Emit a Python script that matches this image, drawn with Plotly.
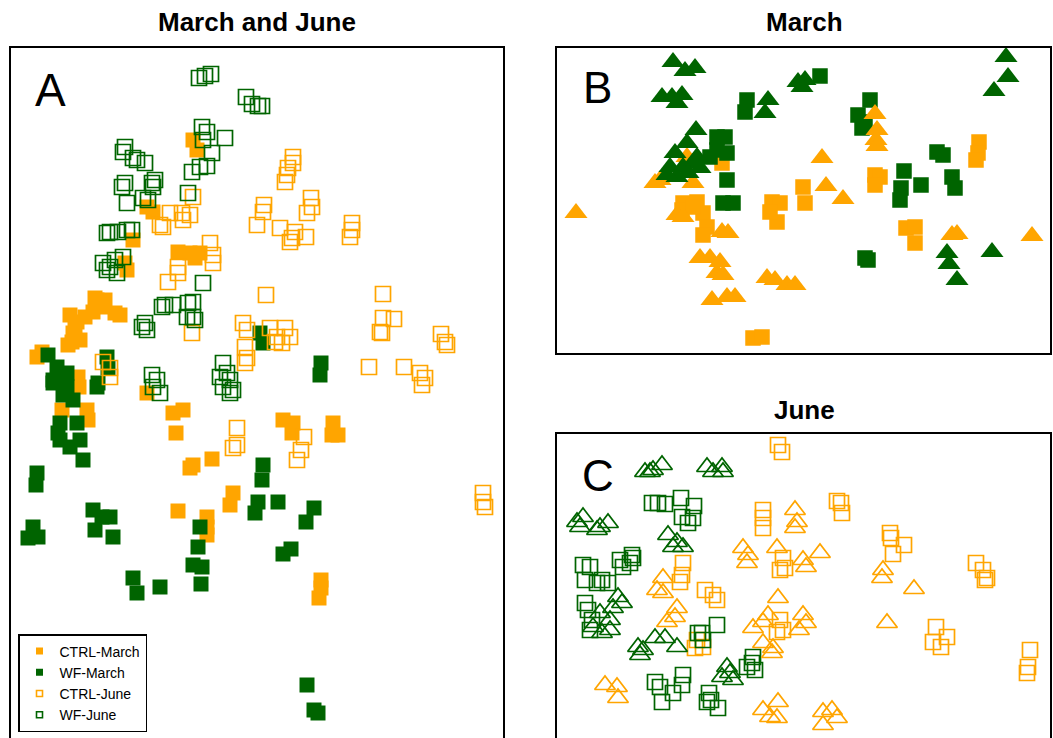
import plotly.graph_objects as go

ORANGE = "#FFA500"
GREEN = "#006400"
FONT = "Liberation Sans, Arial, sans-serif"

# ---------------- Panel A: March and June (NMDS scores) ----------------
a_ctrl_march_x = [-72, -60, -50, -55, -117, -125, -123, -103, -97, -153, -157, -135, -173, -177, -178, -165,
                  -148, -208, -213, -172, -57, -53, -188, -163, -162, -77, -67, -74, -60, -57, -38, -17,
                  -20, -72, -43, -43, -43, -103, -171, 33, 43, 42, 83, 82, 88, 71, 71, 69,
                  -155, -145, -180, -130, -175, -182, -170]
a_ctrl_march_y = [148, 147, 147, 142, 160, 137, 130, 193, 188, 100, 88, 87, 78, 67, 58, 83,
                  93, 48, 43, 23, 260, 250, -10, -10, -20, -13, -10, -33, -68, -65, -59, -93,
                  -105, -111, -117, -127, -135, 7, 13, -20, -23, -33, -23, -35, -35, -180, -188, -198,
                  102, 100, 85, 85, 72, 55, 60]

a_wf_march_x = [-202, -193, -183, -197, -143, -142, -152, 10, 13, 71, 70, -197, -183, -177, -187, -153,
                -190, -190, -173, -170, -167, -180, -192, -213, -214, -217, -222, -212, -157, -155, -140,
                -137, -148, -117, -113, -90, -52, -57, -48, -49, -50, 13, 12, 8, 5, 28, 64, 56, 41, 33,
                57, 64, 68]
a_wf_march_y = [45, 33, 27, 20, 43, 32, 17, 67, 57, 37, 25, 17, 13, 0, 5, 13,
                -23, -40, -23, -40, -60, -47, -33, -73, -85, -127, -138, -137, -110, -130, -117,
                -137, -117, -178, -193, -187, -147, -165, -167, -184, -127, -65, -80, -102, -113, -102,
                -108, -122, -149, -154, -285, -310, -313]

a_ctrl_june_x = [-80, -90, -87, -68, -60, -67, -57, -40, -37, -37, -72, -72, -82, -58, -7, -3, -5, -3, -5,
                 -147, -140, -140, 43, 43, 38, 37, 35, 14, 13, 7, 30, 45, 40, 42, 56, 61, 62, 57, 102,
                 102, 100, 16, 133, 133, 144, 130, 132, 191, 195, 197, 119, 154, 170, 175, 172, 20, 35,
                 40, 25, 32, 27, -13, -17, -13, 54, 51, 47, 233, 233, 235]
a_ctrl_june_y = [187, 175, 173, 187, 185, 180, 203, 157, 145, 137, 133, 127, 118, 67, 77, 70, 53, 42, 37,
                 38, 32, 23, 243, 237, 232, 225, 218, 195, 188, 175, 172, 168, 158, 162, 163, 202, 193,
                 187, 177, 170, 163, 105, 106, 82, 81, 68, 67, 66, 58, 55, 33, 33, 27, 22, 15, 72, 72,
                 63, 58, 57, 63, -28, -48, -45, -37, -50, -60, -93, -102, -107]

a_wf_june_x = [-51, -45, -39, -4, 2, 8, 12, -48, -43, -25, -38, -47, -58, -50, -43, -125, -127, -113, -105,
               -117, -125, -128, -123, -95, -98, -97, -107, -102, -62, -140, -132, -123, -118, -143,
               -143, -135, -127, -147, -133, -140, -85, -77, -88, -105, -103, -108, -62, -57, -57, -63,
               -55, -47, -27, -23, -20, -30, -98, -93, -97, -90, -27, -20, -17]
a_wf_june_y = [322, 324, 326, 303, 296, 294, 294, 273, 268, 262, 247, 260, 228, 233, 234, 253, 248, 240,
               237, 242, 217, 213, 197, 220, 217, 213, 202, 200, 207, 168, 168, 170, 170, 167, 130, 140,
               143, 137, 127, 133, 95, 95, 93, 77, 70, 73, 97, 98, 83, 83, 80, 117, 37, 27, 20, 23, 25,
               20, 13, 7, 13, 7, 10]

# ---------------- Panel B: March ----------------
b_ctrl_sq_x = [-117, -103, -97, -93, -97, -118, -107, -78, -28, -20, -23, -30, 3, 5, -47, -38, 75, 80, 75,
               106, 115, 115, 179, 178, 176]
b_ctrl_sq_y = [-3, -2, -13, -27, -35, -10, -7, 37, -2, -3, -22, -12, 13, -3, -138, -137, 25, 23, 15,
               -28, -27, -43, 58, 47, 40]

b_wf_sq_x = [-53, -55, -83, -75, -83, -73, -90, -73, -77, -67, 20, 70, 58, 62, 65, 137, 143, 104, 121,
             101, 100, 152, 155, 65, 68]
b_wf_sq_y = [100, 88, 63, 63, 50, 47, 43, 20, -3, -3, 124, 100, 85, 72, 78, 48, 45, 29, 15, 12, 0, 23,
             12, -58, -60]

b_ctrl_tri_x = [-140, -145, -224, -123, -117, -78, -72, -100, -90, -80, -83, -77, -88, -73, -65, -33, -25,
                -13, -5, -113, -107, 75, 77, 76, 77, 22, 26, 43, 152, 157, 232]
b_ctrl_tri_y = [20, 17, -13, -15, -17, -32, -33, -58, -58, -62, -73, -75, -100, -97, -97, -78, -80,
                -85, -85, 43, 17, 86, 70, 60, 54, 42, 14, 1, -35, -34, -36]

b_wf_tri_x = [-127, -115, -105, -138, -128, -118, -123, -32, -35, -2, -104, -113, -125, -130, -117, -107,
              -100, -112, -123, -133, -103, 5, 2, 206, 208, 194, 147, 149, 157, 192]
b_wf_tri_y = [138, 129, 132, 103, 103, 105, 97, 100, 87, 118, 70, 57, 47, 33, 33, 37, 32, 27, 23, 25, 43,
              120, 113, 143, 123, 109, -53, -64, -80, -52]

# ---------------- Panel C: June ----------------
c_ctrl_sq_x = [-22, -18, -37, -37, -37, -117, -118, -120, -95, -87, -83, -17, -20, -15, -103, -97, -105,
               -20, -17, -23, 37, 41, 42, 90, 91, 104, 93, 176, 183, 187, 185, 136, 147, 133, 141, 230,
               228, 227]
c_ctrl_sq_y = [145, 138, 80, 72, 62, 27, 15, 8, 0, -5, -10, 32, 20, 22, -50, -57, -58, -30, -40, -42,
               89, 87, 77, 57, 52, 45, 36, 27, 20, 12, 10, -37, -47, -52, -57, -60, -77, -83]

c_wf_sq_x = [-148, -142, -135, -119, -106, -107, -118, -112, -217, -210, -215, -203, -180, -168, -170, -177,
             -167, -198, -192, -215, -212, -208, -210, -83, -98, -102, -97, -47, -53, -45, -48, -145,
             -140, -127, -117, -118, -138, -91, -89, -82, -93]
c_wf_sq_y = [87, 87, 86, 92, 84, 72, 73, 67, 25, 23, 10, 7, 30, 35, 27, 23, 32, 10, 7, -13, -20, -30, -40,
             -35, -43, -43, -50, -67, -77, -80, -73, -92, -97, -103, -85, -95, -112, -103, -110, -118,
             -112]

c_ctrl_tri_x = [-5, -3, -5, -57, -52, -53, -23, 3, 6, 20, -137, -143, -137, -123, -125, -133, -22, -32,
                -47, -37, 3, 6, -1, -37, -28, -27, -195, -183, -182, -37, -22, -23, -30, 83, 82, 114, 87,
                23, 32, 37, 23]
c_ctrl_tri_y = [80, 68, 62, 42, 35, 27, 42, 30, 23, 37, 12, 0, -3, -18, -27, -32, -8, -25, -38, -32, -25,
                -33, -40, -53, -63, -58, -95, -97, -108, -120, -112, -128, -127, 20, 12, 1, -33, -122,
                -120, -128, -135]

c_wf_tri_x = [-155, -150, -138, -147, -93, -87, -78, -77, -223, -217, -200, -192, -203, -220, -132, -127,
              -117, -123, -182, -178, -187, -200, -190, -207, -198, -190, -162, -157, -160, -145, -135,
              -123, -73, -70, -78, -67]
c_wf_tri_y = [118, 118, 125, 120, 123, 118, 123, 118, 68, 73, 63, 67, 60, 63, 55, 43, 43, 48, -7, -13,
              -18, -23, -30, -37, -43, -40, -57, -60, -65, -48, -48, -57, -77, -83, -87, -90]

legend_names = ["CTRL-March", "WF-March", "CTRL-June", "WF-June"]
panel_titles = ["March and June", "March", "June"]
panel_letters = ["A", "B", "C"]

fig = go.Figure()


def filled(x, y, color, symbol, size, xa, ya):
    fig.add_trace(go.Scatter(
        x=x, y=y, mode="markers", xaxis=xa, yaxis=ya, showlegend=False, hoverinfo="skip",
        marker=dict(symbol=symbol, size=size, color=color, line=dict(width=0)),
    ))


def hollow(x, y, color, symbol, size, xa, ya):
    fig.add_trace(go.Scatter(
        x=x, y=y, mode="markers", xaxis=xa, yaxis=ya, showlegend=False, hoverinfo="skip",
        marker=dict(symbol=symbol + "-open", size=size, color=color, line=dict(width=1.7, color=color)),
    ))


# Panel A
filled(a_ctrl_march_x, a_ctrl_march_y, ORANGE, "square", 15, "x", "y")
filled(a_wf_march_x, a_wf_march_y, GREEN, "square", 15, "x", "y")
hollow(a_ctrl_june_x, a_ctrl_june_y, ORANGE, "square", 15, "x", "y")
hollow(a_wf_june_x, a_wf_june_y, GREEN, "square", 15, "x", "y")

# Panel B
filled(b_ctrl_sq_x, b_ctrl_sq_y, ORANGE, "square", 15.5, "x2", "y2")
filled(b_wf_sq_x, b_wf_sq_y, GREEN, "square", 15.5, "x2", "y2")
filled(b_ctrl_tri_x, b_ctrl_tri_y, ORANGE, "triangle-up", 20, "x2", "y2")
filled(b_wf_tri_x, b_wf_tri_y, GREEN, "triangle-up", 20, "x2", "y2")

# Panel C
hollow(c_ctrl_sq_x, c_ctrl_sq_y, ORANGE, "square", 15, "x3", "y3")
hollow(c_wf_sq_x, c_wf_sq_y, GREEN, "square", 15, "x3", "y3")
hollow(c_ctrl_tri_x, c_ctrl_tri_y, ORANGE, "triangle-up", 18, "x3", "y3")
hollow(c_wf_tri_x, c_wf_tri_y, GREEN, "triangle-up", 18, "x3", "y3")

# Legend entries (symbols only)
legend_styles = [
    dict(symbol="square", size=7, color=ORANGE, line=dict(width=0)),
    dict(symbol="square", size=7, color=GREEN, line=dict(width=0)),
    dict(symbol="square-open", size=6, color=ORANGE, line=dict(width=1.6, color=ORANGE)),
    dict(symbol="square-open", size=6, color=GREEN, line=dict(width=1.6, color=GREEN)),
]
for name, style in zip(legend_names, legend_styles):
    fig.add_trace(go.Scatter(x=[None], y=[None], mode="markers", name=name, marker=style,
                             xaxis="x", yaxis="y", showlegend=True))

W, H = 1053, 738
ax_common = dict(showgrid=False, zeroline=False, showticklabels=False, ticks="",
                 showline=True, linecolor="black", linewidth=1.5, fixedrange=True)

fig.update_layout(
    width=W, height=H,
    margin=dict(l=0, r=0, t=0, b=0),
    paper_bgcolor="white", plot_bgcolor="white",
    font=dict(family=FONT, color="black"),
    # Panel A: open at the bottom edge of the page
    xaxis=dict(domain=[11 / W, 503 / W], range=[-239, 253], side="top", mirror=False, **ax_common),
    yaxis=dict(domain=[0, 690 / H], range=[-338, 352], mirror=True, **ax_common),
    # Panel B: closed frame
    xaxis2=dict(domain=[557 / W, 1050 / W], range=[-243, 250], anchor="y2", mirror=True, **ax_common),
    yaxis2=dict(domain=[385 / H, 690 / H], range=[-153, 152], anchor="x2", mirror=True, **ax_common),
    # Panel C: open at the bottom edge of the page
    xaxis3=dict(domain=[557 / W, 1050 / W], range=[-243, 250], anchor="y3", side="top", mirror=False,
                **ax_common),
    yaxis3=dict(domain=[0, 304 / H], range=[-148, 156], anchor="x3", mirror=True, **ax_common),
    legend=dict(x=18 / W, y=(H - 634) / H, xanchor="left", yanchor="top",
                bgcolor="white", bordercolor="black", borderwidth=1.5,
                font=dict(family=FONT, size=14, color="black"),
                itemsizing="trace", tracegroupgap=0),
    showlegend=True,
)

title_pos = [(257, 22), (804, 22), (804, 410)]
letter_pos = [(33, 90), (581, 88), (580, 475)]
letter_size = [46, 44, 44]
annotations = []
for text, (tx, ty) in zip(panel_titles, title_pos):
    annotations.append(dict(text="<b>" + text + "</b>", x=tx / W, y=(H - ty) / H, xref="paper", yref="paper",
                            xanchor="center", yanchor="middle", showarrow=False,
                            font=dict(family=FONT, size=26, color="black")))
for text, (lx, ly), fs in zip(panel_letters, letter_pos, letter_size):
    annotations.append(dict(text=text, x=lx / W, y=(H - ly) / H, xref="paper", yref="paper",
                            xanchor="left", yanchor="middle", showarrow=False,
                            font=dict(family=FONT, size=fs, color="black")))
fig.update_layout(annotations=annotations)

fig.write_html("out.html")
